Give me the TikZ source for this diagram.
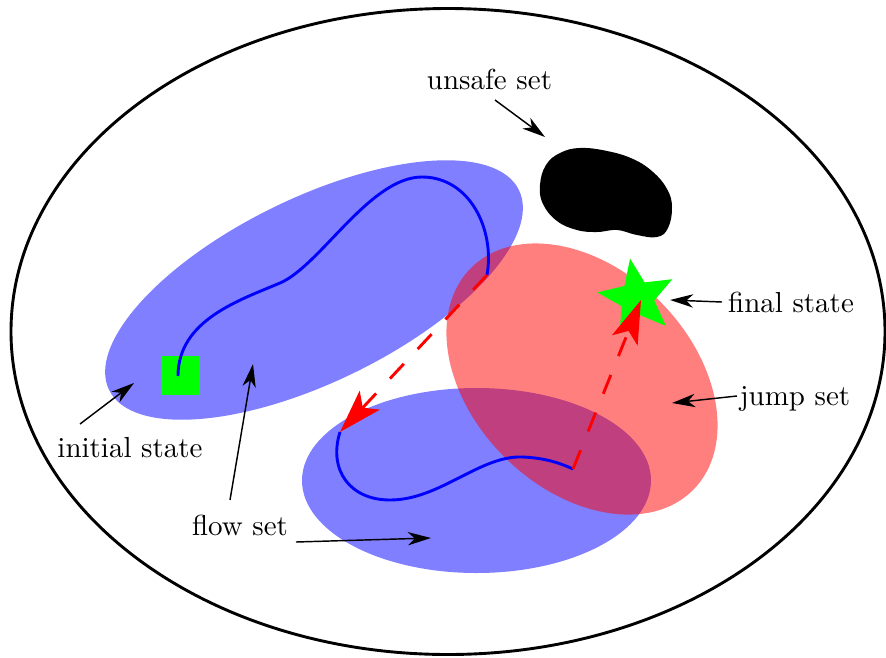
\documentclass[tikz,border=0pt]{standalone}
\usetikzlibrary{arrows.meta,shapes.geometric}
\begin{document}
\begin{tikzpicture}[x=0.01213cm,y=-0.01213cm,
  lbl/.style={inner sep=0pt, anchor=base},
  pointer/.style={-{Stealth[length=8pt,width=4.6pt,inset=2.4pt]}, line width=0.5pt},
  jumparrow/.style={red, line width=1pt, dash pattern=on 7pt off 7pt, -{Stealth[length=15pt,width=9.5pt,inset=3.5pt]}},
  flowcurve/.style={blue, line width=1pt},
  flowset/.style={fill=blue, fill opacity=0.5},
  jumpset/.style={fill=red, fill opacity=0.5}]
\useasboundingbox (0,0) rectangle (886,657);
% state space
\draw[line width=1pt] (448,331.5) ellipse [x radius=437, y radius=323];
% flow sets
\fill[flowset, rotate around={26:(314,290)}] (314,290) ellipse [x radius=228, y radius=92];
\fill[flowset] (476.5,480.5) ellipse [x radius=174.5, y radius=92.5];
% jump set
\fill[jumpset, rotate around={-45:(582,379)}] (582,379) ellipse [x radius=157, y radius=110];
% unsafe set
\fill[black] plot[smooth cycle, tension=0.7] coordinates {(540,185) (546,165) (560,153) (580,148) (607,151) (633,159) (653,172) (667,189) (672,207) (668,228) (657,237) (637,235) (617,230) (597,232) (577,230) (557,221) (543,204)};
% initial state
\node[rectangle, fill=green, minimum size=0.473cm, inner sep=0pt] (init) at (180.5,375.5) {};
% jump coordinates
\coordinate (j1s) at (487,275);
\coordinate (j1e) at (340,432);
\coordinate (j2s) at (573,469);
\coordinate (j2e) at (641,300);
% flow curves
\draw[flowcurve] (178,376) .. controls (178,320) and (240,300) .. (280,283)
  .. controls (320,266) and (370,177) .. (422,177)
  .. controls (470,177) and (495,230) .. (j1s);
\draw[flowcurve] (j1e) .. controls (328,470) and (350,500) .. (390,500)
  .. controls (440,500) and (480,455) .. (523,457)
  .. controls (545,458) and (560,463) .. (j2s);
% final state
\node[star, star points=5, star point ratio=2.3, minimum size=0.97cm, inner sep=0pt, fill=green, shape border rotate=10] (final) at (637,298) {};
% jumps
\draw[jumparrow] (j1s) -- (j1e);
\draw[jumparrow] (j2s) -- (j2e);
% labels
\node[lbl] (lunsafe) at (489.5,89) {unsafe set};
\node[lbl] (lfinal) at (791,312) {final state};
\node[lbl] (ljump) at (795,405) {jump set};
\node[lbl] (linit) at (130,457) {initial state};
\node[lbl] (lflow) at (240,535) {flow set};
% pointer coordinates
\coordinate (pu1) at (495,100);
\coordinate (pu2) at (545,137);
\coordinate (pf1) at (722,302);
\coordinate (pf2) at (670,300);
\coordinate (pj1) at (737,396);
\coordinate (pj2) at (672,403);
\coordinate (pi1) at (80,424);
\coordinate (pi2) at (134,383);
\coordinate (pa1) at (230,500);
\coordinate (pa2) at (253,364);
\coordinate (pb1) at (296,542);
\coordinate (pb2) at (431,538);
\draw[pointer] (pu1) -- (pu2);
\draw[pointer] (pf1) -- (pf2);
\draw[pointer] (pj1) -- (pj2);
\draw[pointer] (pi1) -- (pi2);
\draw[pointer] (pa1) -- (pa2);
\draw[pointer] (pb1) -- (pb2);
\end{tikzpicture}
\end{document}
